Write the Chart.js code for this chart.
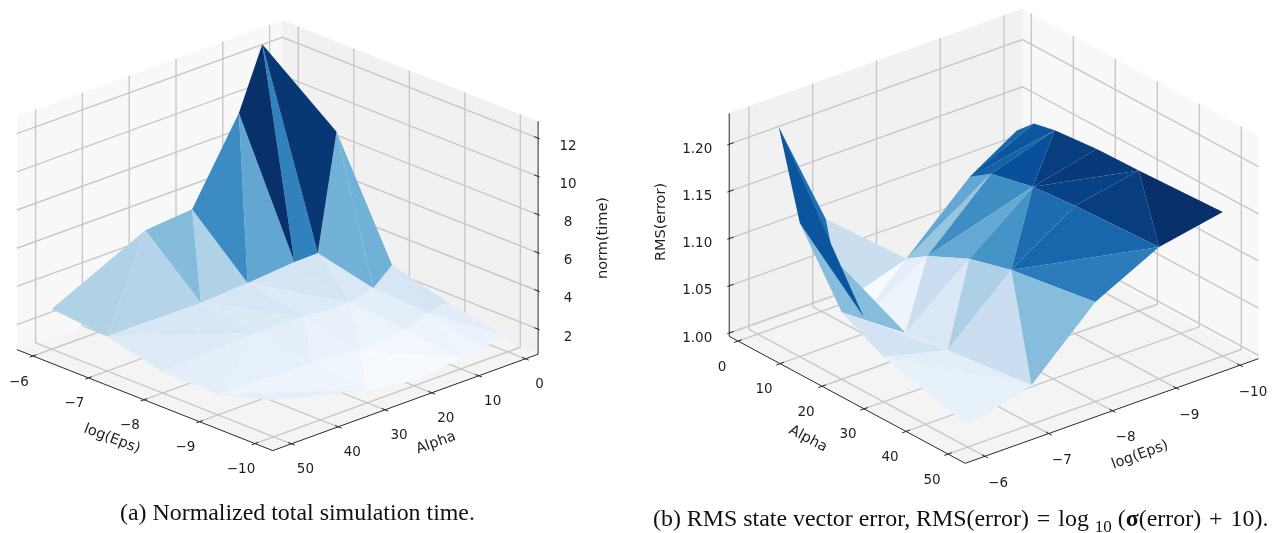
<!DOCTYPE html>
<html>
<head>
<meta charset="utf-8">
<title>Surface plots</title>
<script src="https://cdn.jsdelivr.net/npm/chart.js@4"></script>
<style>
  html, body { margin: 0; padding: 0; background: #fff; }
  body { position: relative; width: 1279px; height: 533px; overflow: hidden; }
  canvas { position: absolute; top: 0; }
  #chart-time { left: 0; }
  #chart-rms { left: 640px; }
  .caption {
    position: absolute;
    font-family: "Liberation Serif", serif;
    font-size: 23.9px;
    color: #111;
    white-space: nowrap;
    line-height: 26px;
  }
  #caption-a { left: 120px; top: 499px; }
  #caption-b { left: 653px; top: 505px; }
  .caption sub { font-size: 17px; line-height: 0; }
  .caption .sym { font-weight: bold; }
  .caption .op { margin: 0 2px; }
</style>
</head>
<body>
<canvas id="chart-time" width="640" height="533"></canvas>
<canvas id="chart-rms" width="639" height="533"></canvas>
<div class="caption" id="caption-a">(a) Normalized total simulation time.</div>
<div class="caption" id="caption-b">(b) RMS state vector error, RMS(error) <span class="op">=</span> log <sub>10</sub> (<span class="sym">σ</span>(error) <span class="op">+</span> 10).</div>

<script>
const epsValues = [-6, -7, -8, -9, -10];
const alphaValues = [1, 5, 10, 20, 30, 50];

// rows follow alphaValues, columns follow epsValues, null = run not in the table
const timeSurface = [
  [null, 8.86, 3.03, 2.24, 1.66],
  [12.65, 2.87, 2.18, 2.0, 1.32],
  [9.49, 2.84, 1.84, 1.63, 1.27],
  [5.35, 2.63, 2.0, 1.42, 0.95],
  [5.14, 2.47, 2.05, 1.63, 1.36],
  [2.8, 2.52, 1.79, 1.74, 2.6],
];
const rmsSurface = [
  [null, 1.0966, 1.0, 1.05, 1.118],
  [1.2275, 1.018, 1.04, 1.103, 1.135],
  [1.138, 1.0145, 1.055, 1.118, 1.14],
  [1.0675, 1.0214, 1.076, 1.128, 1.144],
  [1.044, 1.027, 1.088, 1.132, 1.145],
  [1.019, 1.038, 1.102, 1.136, 1.149],
];

// how each grid cell was split: A joins (i,j)-(i+1,j+1), B joins (i+1,j)-(i,j+1)
const timeSplits = ["BAAB", "AAAA", "ABAB", "ABAA", "ABAB"];
const rmsSplits = ["BABB", "ABAA", "ABAB", "ABBA", "ABAB"];

const epsTicks = [-6, -7, -8, -9, -10];
const epsTickLabels = ["−6", "−7", "−8", "−9", "−10"];
const alphaTicks = [0, 10, 20, 30, 40, 50];
const alphaTickLabels = ["0", "10", "20", "30", "40", "50"];
const timeTicks = [2, 4, 6, 8, 10, 12];
const timeTickLabels = ["2", "4", "6", "8", "10", "12"];
const rmsTicks = [1.0, 1.05, 1.1, 1.15, 1.2];
const rmsTickLabels = ["1.00", "1.05", "1.10", "1.15", "1.20"];

const BLUES = ["#f7fbff", "#deebf7", "#c6dbef", "#9ecae1", "#6baed6", "#4292c6", "#2171b5", "#08519c", "#08306b"];
const GRID_COLOR = "#c8c8c8";
const GRID_WIDTH = 1.4;
const AXIS_COLOR = "#2a2a2a";
const TEXT_COLOR = "#1f1f1f";
const TICK_FONT = '13.5px "DejaVu Sans"';
const LABEL_FONT = '14.5px "DejaVu Sans"';

// orthographic camera of each panel, fitted to the box corners
const timeView = {
  xRange: [0, 640],
  origin: [285.7, 264.2],
  epsStep: [55.5, 21.9],
  alphaStep: [-4.68, 1.7],
  zPixels: 19.1,
  zLimits: [0.69, 12.89],
  back: { eps: -5.71, alpha: -2.7 },
  front: { eps: -10.32, alpha: 54 },
  epsLabelOffset: [-14, 26],
  alphaLabelOffset: [14, 26],
  zLabelOffset: [30, 8],
  axisLabels: [
    { text: "log(Eps)", x: 112, y: 439, angle: 21 },
    { text: "Alpha", x: 436, y: 443, angle: -20 },
    { text: "norm(time)", x: 603, y: 238, angle: -90 },
  ],
};
const rmsView = {
  xRange: [640, 1279],
  origin: [757.8, 334],
  epsStep: [63.75, -22.75],
  alphaStep: [4.2, 2.26],
  zPixels: 944,
  zLimits: [0.9965, 1.2327],
  back: { eps: -10.29, alpha: -2.1 },
  front: { eps: -5.69, alpha: 54.1 },
  epsLabelOffset: [13, 27],
  alphaLabelOffset: [-16, 26],
  zLabelOffset: [-32, 5],
  axisLabels: [
    { text: "RMS(error)", x: 661, y: 222, angle: -90 },
    { text: "Alpha", x: 808, y: 439, angle: 28 },
    { text: "log(Eps)", x: 1140, y: 455, angle: -20 },
  ],
};

function project(view, eps, alpha, z) {
  const e = -6 - eps;
  return {
    x: view.origin[0] + e * view.epsStep[0] + alpha * view.alphaStep[0],
    y: view.origin[1] + e * view.epsStep[1] + alpha * view.alphaStep[1] - (z - view.zLimits[0]) * view.zPixels,
  };
}

function hexToRgb(hex) {
  return [1, 3, 5].map((pos) => parseInt(hex.slice(pos, pos + 2), 16));
}

function bluesColor(t) {
  const scaled = Math.min(Math.max(t, 0), 1) * (BLUES.length - 1);
  const index = Math.min(Math.floor(scaled), BLUES.length - 2);
  const from = hexToRgb(BLUES[index]);
  const to = hexToRgb(BLUES[index + 1]);
  const mix = from.map((c, k) => Math.round(c + (to[k] - c) * (scaled - index)));
  return `rgb(${mix[0]}, ${mix[1]}, ${mix[2]})`;
}

function lineDataset(points, color, width) {
  return {
    type: "scatter",
    data: points,
    showLine: true,
    fill: false,
    borderColor: color,
    borderWidth: width,
    pointRadius: 0,
    clip: false,
  };
}

function polygonDataset(points, color) {
  return {
    type: "scatter",
    data: points.concat([points[0]]),
    showLine: true,
    fill: "shape",
    backgroundColor: color,
    borderColor: "transparent",
    borderWidth: 0,
    pointRadius: 0,
    clip: false,
  };
}

function boxDatasets(view, zTicks) {
  const { back, front } = view;
  const [zMin, zMax] = view.zLimits;
  const p = (eps, alpha, z) => project(view, eps, alpha, z);
  const sets = [];

  sets.push(polygonDataset([p(back.eps, back.alpha, zMin), p(front.eps, back.alpha, zMin), p(front.eps, front.alpha, zMin), p(back.eps, front.alpha, zMin)], "#f4f4f4"));
  sets.push(polygonDataset([p(back.eps, back.alpha, zMin), p(back.eps, front.alpha, zMin), p(back.eps, front.alpha, zMax), p(back.eps, back.alpha, zMax)], "#f8f8f8"));
  sets.push(polygonDataset([p(back.eps, back.alpha, zMin), p(front.eps, back.alpha, zMin), p(front.eps, back.alpha, zMax), p(back.eps, back.alpha, zMax)], "#f1f1f1"));

  epsTicks.forEach((eps) => {
    sets.push(lineDataset([p(eps, front.alpha, zMin), p(eps, back.alpha, zMin), p(eps, back.alpha, zMax)], GRID_COLOR, GRID_WIDTH));
  });
  alphaTicks.forEach((alpha) => {
    sets.push(lineDataset([p(front.eps, alpha, zMin), p(back.eps, alpha, zMin), p(back.eps, alpha, zMax)], GRID_COLOR, GRID_WIDTH));
  });
  zTicks.forEach((z) => {
    sets.push(lineDataset([p(back.eps, front.alpha, z), p(back.eps, back.alpha, z), p(front.eps, back.alpha, z)], GRID_COLOR, GRID_WIDTH));
  });

  sets.push(lineDataset([p(back.eps, front.alpha, zMin), p(front.eps, front.alpha, zMin), p(front.eps, back.alpha, zMin), p(front.eps, back.alpha, zMax)], AXIS_COLOR, 1));

  const epsDir = Math.sign(front.eps - back.eps);
  epsTicks.forEach((eps) => {
    sets.push(lineDataset([p(eps, front.alpha - 0.7, zMin), p(eps, front.alpha + 0.7, zMin)], AXIS_COLOR, 1));
  });
  alphaTicks.forEach((alpha) => {
    sets.push(lineDataset([p(front.eps - 0.06 * epsDir, alpha, zMin), p(front.eps + 0.06 * epsDir, alpha, zMin)], AXIS_COLOR, 1));
  });
  zTicks.forEach((z) => {
    sets.push(lineDataset([p(front.eps - 0.07 * epsDir, back.alpha, z), p(front.eps + 0.03 * epsDir, back.alpha, z)], AXIS_COLOR, 1));
  });
  return sets;
}

function buildTriangles(surface, splits) {
  const triangles = [];
  const corner = (i, j) => ({ i, j, z: surface[i][j] });
  splits.forEach((row, i) => {
    row.split("").forEach((split, j) => {
      const a = corner(i, j);
      const b = corner(i + 1, j);
      const c = corner(i + 1, j + 1);
      const d = corner(i, j + 1);
      const pair = split === "A" ? [[a, b, c], [a, c, d]] : [[b, c, d], [b, d, a]];
      pair.forEach((tri) => {
        if (tri.every((v) => v.z !== null)) triangles.push(tri);
      });
    });
  });
  return triangles;
}

function surfaceDatasets(view, surface, splits) {
  const triangles = buildTriangles(surface, splits).map((tri) => {
    const points = tri.map((v) => project(view, epsValues[v.j], alphaValues[v.i], v.z));
    const mean = tri.reduce((sum, v) => sum + v.z, 0) / 3;
    // depth mixes floor distance with height, camera sits about 33 degrees up
    const nearness = tri.reduce((sum, v, k) => {
      const floor = project(view, epsValues[v.j], alphaValues[v.i], view.zLimits[0]);
      return sum + floor.y * 1.5 + (floor.y - points[k].y) * 0.667;
    }, 0);
    return { points, mean, nearness };
  });

  const means = triangles.map((t) => t.mean);
  const low = Math.min(...means);
  const high = Math.max(...means);
  triangles.sort((a, b) => a.nearness - b.nearness);
  return triangles.map((t) => polygonDataset(t.points, bluesColor((t.mean - low) / (high - low))));
}

function textPlugin(view, zTicks, zTickLabels) {
  const { back, front } = view;
  const zMin = view.zLimits[0];
  return {
    id: "axisText",
    afterDraw(chart) {
      const { ctx } = chart;
      const put = (text, x, y, angle) => {
        ctx.save();
        ctx.translate(x - view.xRange[0], y);
        ctx.rotate((angle * Math.PI) / 180);
        ctx.fillText(text, 0, 0);
        ctx.restore();
      };
      ctx.save();
      ctx.font = TICK_FONT;
      ctx.fillStyle = TEXT_COLOR;
      ctx.textAlign = "center";
      ctx.textBaseline = "middle";
      epsTicks.forEach((eps, i) => {
        const pos = project(view, eps, front.alpha, zMin);
        put(epsTickLabels[i], pos.x + view.epsLabelOffset[0], pos.y + view.epsLabelOffset[1], 0);
      });
      alphaTicks.forEach((alpha, i) => {
        const pos = project(view, front.eps, alpha, zMin);
        put(alphaTickLabels[i], pos.x + view.alphaLabelOffset[0], pos.y + view.alphaLabelOffset[1], 0);
      });
      zTicks.forEach((z, i) => {
        const pos = project(view, front.eps, back.alpha, z);
        put(zTickLabels[i], pos.x + view.zLabelOffset[0], pos.y + view.zLabelOffset[1], 0);
      });
      ctx.font = LABEL_FONT;
      view.axisLabels.forEach((label) => put(label.text, label.x, label.y, label.angle));
      ctx.restore();
    },
  };
}

function drawPanel(canvasId, view, surface, splits, zTicks, zTickLabels) {
  // chart.js paints the first dataset last, so the list goes front to back
  const datasets = boxDatasets(view, zTicks).concat(surfaceDatasets(view, surface, splits)).reverse();
  return new Chart(document.getElementById(canvasId), {
    type: "scatter",
    data: { datasets },
    plugins: [textPlugin(view, zTicks, zTickLabels)],
    options: {
      responsive: false,
      animation: false,
      devicePixelRatio: 1,
      layout: { padding: 0 },
      plugins: { legend: { display: false }, tooltip: { enabled: false } },
      scales: {
        x: { type: "linear", display: false, min: view.xRange[0], max: view.xRange[1] },
        y: { type: "linear", display: false, min: 0, max: 533, reverse: true },
      },
    },
  });
}

document.addEventListener("DOMContentLoaded", () => {
  drawPanel("chart-time", timeView, timeSurface, timeSplits, timeTicks, timeTickLabels);
  drawPanel("chart-rms", rmsView, rmsSurface, rmsSplits, rmsTicks, rmsTickLabels);
});
</script>
</body>
</html>
